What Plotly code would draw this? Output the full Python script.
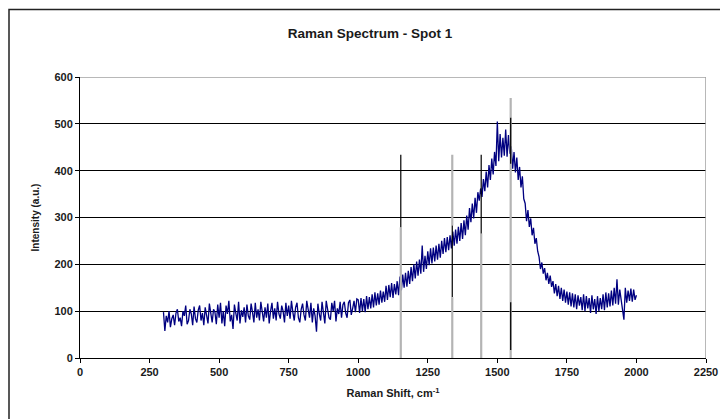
import plotly.graph_objects as go

# ---- data -------------------------------------------------------------
shift_start = 300
shift_step = 5
intensity = [
    98, 58, 90, 76, 100, 66, 84, 92, 70, 96,
    104, 78, 86, 68, 100, 90, 112, 72, 80, 104,
    94, 70, 110, 84, 76, 102, 112, 80, 96, 70,
    108, 88, 74, 116, 92, 76, 104, 98, 72, 114,
    86, 118, 74, 100, 68, 112, 94, 122, 78, 92,
    62, 114, 96, 80, 120, 74, 102, 88, 108, 76,
    114, 90, 82, 116, 98, 76, 118, 86, 104, 80,
    120, 92, 78, 108, 86, 116, 74, 100, 118, 84,
    106, 80, 120, 94, 84, 112, 100, 76, 118, 90,
    112, 84, 122, 98, 80, 108, 118, 86, 76, 104,
    116, 92, 80, 122, 100, 86, 118, 76, 106, 90,
    56, 116, 94, 80, 120, 96, 74, 122, 104, 86,
    82, 118, 100, 122, 78, 106, 94, 120, 86, 114,
    120, 96, 86, 118, 124, 92, 106, 122, 98, 126,
    124, 96, 128, 100, 126, 98, 132, 104, 130, 106,
    136, 108, 140, 112, 138, 114, 144, 118, 142, 120,
    154, 124, 156, 130, 160, 128, 158, 136, 164, 134,
    174, 144, 178, 150, 182, 152, 186, 158, 194, 164,
    200, 170, 206, 176, 210, 180, 240, 184, 218, 190,
    228, 198, 234, 202, 236, 206, 240, 210, 244, 214,
    250, 222, 256, 226, 258, 230, 262, 234, 270, 240,
    274, 244, 280, 250, 288, 254, 294, 262, 304, 274,
    320, 290, 330, 298, 342, 310, 354, 336, 362, 344,
    382, 356, 398, 364, 412, 380, 426, 392, 440, 410,
    505, 420, 478, 428, 470, 432, 488, 430, 476, 436,
    452, 404, 440, 396, 428, 380, 408, 364, 388, 340,
    330, 292, 316, 280, 298, 262, 278, 244, 256, 228,
    216, 190, 204, 180, 192, 166, 182, 158, 176, 152,
    164, 138, 158, 132, 154, 126, 150, 122, 146, 118,
    142, 114, 140, 110, 138, 108, 136, 104, 134, 112,
    130, 102, 136, 100, 132, 106, 128, 96, 134, 104,
    126, 94, 132, 100, 128, 104, 136, 102, 140, 108,
    138, 110, 144, 112, 150, 116, 168, 114, 146, 120,
    108, 82, 150, 118, 144, 122, 148, 120, 146, 124,
    134,
]
raman_shift = [shift_start + i * shift_step for i in range(len(intensity))]

# peak marker lines: (position, y_from, y_to)
grey_segments = [
    (1153, 279, 0),
    (1338, 434, 283),
    (1338, 130, 0),
    (1442, 266, 0),
    (1548, 555, 0),
]
black_segments = [
    (1153, 434, 279),
    (1338, 283, 130),
    (1442, 434, 266),
    (1548, 513, 415),
    (1548, 119, 17),
]

x_ticks = [0, 250, 500, 750, 1000, 1250, 1500, 1750, 2000, 2250]
y_ticks = [0, 100, 200, 300, 400, 500, 600]


def seg_xy(segs):
    xs, ys = [], []
    for x, y0, y1 in segs:
        xs += [x, x, None]
        ys += [y0, y1, None]
    return xs, ys


FONT = "Liberation Sans, Arial, sans-serif"

fig = go.Figure()
fig.add_trace(go.Scatter(
    x=raman_shift, y=intensity, mode="lines",
    line=dict(color="#000080", width=1.3), showlegend=False, hoverinfo="skip"))

gx, gy = seg_xy(grey_segments)
fig.add_trace(go.Scatter(x=gx, y=gy, mode="lines",
                         line=dict(color="#b4b4b4", width=2.2),
                         showlegend=False, hoverinfo="skip"))
bx, by = seg_xy(black_segments)
fig.add_trace(go.Scatter(x=bx, y=by, mode="lines",
                         line=dict(color="#000000", width=1.2),
                         showlegend=False, hoverinfo="skip"))

tickfont = dict(family=FONT, size=11, color="#1a1a1a", weight="bold")

fig.update_layout(
    width=720, height=419,
    margin=dict(l=80, r=14, t=77, b=61),
    paper_bgcolor="white", plot_bgcolor="white",
    title=dict(text="Raman Spectrum - Spot 1", x=370 / 720, xref="container",
               xanchor="center", y=(419 - 33) / 419, yref="container",
               yanchor="middle",
               font=dict(family=FONT, size=13.5, color="#1a1a1a", weight="bold")),
    xaxis=dict(range=[0, 2250], tickvals=x_ticks, ticks="outside", ticklen=4,
               tickcolor="black", showline=True, linecolor="black", linewidth=1,
               showgrid=False, zeroline=False, tickfont=tickfont,
               automargin=False,
               title=dict(text="Raman Shift, cm<sup>-1</sup>", standoff=12,
                          font=dict(family=FONT, size=11, color="#1a1a1a",
                                    weight="bold"))),
    yaxis=dict(range=[0, 600], tickvals=y_ticks, ticks="outside", ticklen=4,
               tickcolor="black", showline=True, linecolor="black", linewidth=1,
               showgrid=True, gridcolor="black", gridwidth=1, zeroline=False,
               tickfont=tickfont, automargin=False,
               title=dict(text="Intensity (a.u.)", standoff=12,
                          font=dict(family=FONT, size=10, color="#1a1a1a",
                                    weight="bold"))),
)

# plot-area grey border (top and right) and outer chart border
fig.add_shape(type="line", xref="x", yref="y", x0=0, x1=2250, y0=600, y1=600,
              line=dict(color="#a0a0a0", width=1.5), layer="above")
fig.add_shape(type="line", xref="x", yref="y", x0=2250, x1=2250, y0=0, y1=600,
              line=dict(color="#a0a0a0", width=1.5), layer="above")
fig.add_shape(type="rect", xref="paper", yref="paper",
              x0=(9 - 80) / 626, x1=(730 - 80) / 626,
              y0=(358 - 430) / 281, y1=(358 - 9.5) / 281,
              line=dict(color="#222222", width=1.5), layer="above")

fig.write_html("out.html")
